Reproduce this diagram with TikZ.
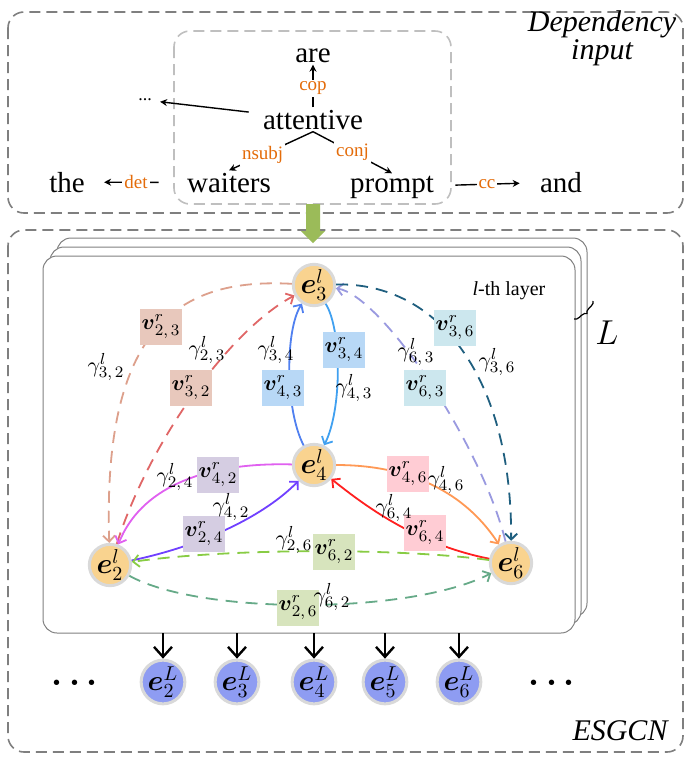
\documentclass[tikz,border=0pt]{standalone}
\usepackage[no-math]{fontspec}
\setmainfont{Liberation Serif}
\usepackage{amsmath}
\usetikzlibrary{arrows.meta,decorations.pathreplacing}

\definecolor{groupgray}{HTML}{7F7F7F}
\definecolor{innergray}{HTML}{BFBFBF}
\definecolor{deporange}{HTML}{E46C0A}
\definecolor{flowgreen}{HTML}{9BBB59}
\definecolor{nodeorange}{HTML}{F9D38F}
\definecolor{nodeblue}{HTML}{8E9CF2}
\definecolor{ringgray}{HTML}{D9D9D9}
\definecolor{salmonE}{HTML}{DDA08C}
\definecolor{redD}{HTML}{E06666}
\definecolor{blueL}{HTML}{5080F0}
\definecolor{blueR}{HTML}{40A0F0}
\definecolor{lavenderE}{HTML}{9A9AE0}
\definecolor{tealD}{HTML}{1F5F7F}
\definecolor{magentaE}{HTML}{E060F0}
\definecolor{purpleE}{HTML}{7040FF}
\definecolor{orangeE}{HTML}{FF9955}
\definecolor{redE}{HTML}{FF2020}
\definecolor{greenE}{HTML}{88CC44}
\definecolor{tealG}{HTML}{66AA88}
\definecolor{boxsalmon}{HTML}{E8C8BC}
\definecolor{boxblue}{HTML}{B8D8F6}
\definecolor{boxteal}{HTML}{CCE7EE}
\definecolor{boxlav}{HTML}{D5CDE2}
\definecolor{boxpink}{HTML}{FFCCD4}
\definecolor{boxgreen}{HTML}{D7E4BD}

\begin{document}
\begin{tikzpicture}[x=0.5pt,y=-0.5pt,
  >={Straight Barb[length=3pt,width=6pt]},
  word/.style={font=\fontsize{14.5}{17}\selectfont, inner sep=1pt, anchor=base},
  deplabel/.style={font=\fontsize{9.5}{11}\selectfont, text=deporange, fill=white, inner sep=1pt},
  deparrow/.style={-{Stealth[length=3.5pt,width=3.5pt]}, line width=0.7pt},
  enode/.style={circle, fill=nodeorange, draw=ringgray, line width=1.5pt, minimum size=17.5pt, inner sep=0pt, font=\fontsize{14}{16}\selectfont},
  outnode/.style={enode, fill=nodeblue, minimum size=18pt},
  vbox/.style={inner sep=1pt, minimum width=20pt, minimum height=18pt, font=\fontsize{11}{13}\selectfont},
  glabel/.style={inner sep=0pt, font=\fontsize{11}{13}\selectfont},
  rel/.style={->, line width=0.9pt},
  dashrel/.style={rel, dash pattern=on 6pt off 4pt},
  layerbox/.style={draw=gray, fill=white, line width=0.5pt, rounded corners=7pt},
  groupbox/.style={draw=groupgray, dash pattern=on 5.5pt off 3pt, line width=0.8pt, rounded corners=8pt},
  outarrow/.style={-{Straight Barb[length=5pt,width=9pt]}, line width=1.2pt}]

  \useasboundingbox (0,0) rectangle (690,761);

  \draw[groupbox] (8,12) rectangle (683,213);                  % Dependency group
  \draw[groupbox] (8,230) rectangle (683,752);                 % ESGCN group
  \draw[groupbox, draw=innergray] (174,31) rectangle (451,204); % Sentence box

  \node[font=\fontsize{15}{11.5}\selectfont\itshape, align=center] (deptitle) at (602,38) {Dependency\\input};
  \node[font=\fontsize{15}{17}\selectfont\itshape] (esgcn) at (620,731) {ESGCN};

  \node[word] (are) at (313,62) {are};                         % Words of the sentence
  \node[word] (attentive) at (313,129) {attentive};
  \node[word] (the) at (67,192) {the};
  \node[word] (waiters) at (229,192) {waiters};
  \node[word] (prompt) at (392,192) {prompt};
  \node[word] (and) at (561,192) {and};
  \node[font=\fontsize{9}{10}\selectfont, inner sep=1pt] (more) at (145,100) {...};

  \draw[deparrow] (attentive) -- node[deplabel, pos=0.45]{cop} (are); % Dependency arcs
  \draw[deparrow, shorten <=6pt, shorten >=3pt] (attentive) -- (more);
  \draw[deparrow] (attentive.south) -- node[deplabel, pos=0.6]{nsubj} (waiters.north);
  \draw[deparrow] (attentive.south) -- node[deplabel]{conj} (prompt.north);
  \draw[deparrow, shorten <=13pt, shorten >=8.5pt] (waiters) -- node[deplabel]{det} (the);
  \draw[deparrow, shorten <=9.5pt, shorten >=9pt] (prompt) -- node[deplabel]{cc} (and);

  \draw[layerbox] (57,238) rectangle (587,617);                % Stack of layers
  \draw[layerbox] (50,247) rectangle (581,625);
  \draw[layerbox] (43,256) rectangle (575,633);
  \coordinate (fb) at (0,633);                                 % Bottom of front layer

  \fill[flowgreen] (306,204) -- (320,204) -- (320,231) -- (325,231) -- (313,243)
    -- (301,231) -- (306,231) -- cycle;                        % Flow into the layers

  \draw[decorate, decoration={brace, amplitude=2.5pt}, line width=0.6pt] (593,301) -- (574,319);
  \node[font=\fontsize{17}{19}\selectfont] (nlayers) at (607,333) {$L$};
  \node[font=\fontsize{10}{12}\selectfont] (layername) at (509,291) {\textit{l}-th layer};

  \node[enode] (e3) at (314,285) {$\boldsymbol{e}^l_3$};       % Nodes of the l-th layer
  \node[enode] (e4) at (314,465) {$\boldsymbol{e}^l_4$};
  \node[enode] (e2) at (110,565) {$\boldsymbol{e}^l_2$};
  \node[enode] (e6) at (511,563) {$\boldsymbol{e}^l_6$};

  \draw[dashrel, salmonE] (e3) .. controls (185,278) and (102,320) .. (e2);   % e3 to e2
  \draw[dashrel, redD] (e2) .. controls (150,440) and (230,330) .. (e3);      % e2 to e3
  \draw[rel, blueL] (e4) .. controls (285,410) and (285,330) .. (e3);         % e4 to e3
  \draw[rel, blueR] (e3) .. controls (342,330) and (342,410) .. (e4);         % e3 to e4
  \draw[dashrel, lavenderE] (e6) .. controls (480,440) and (380,295) .. (e3); % e6 to e3
  \draw[dashrel, tealD] (e3) .. controls (440,282) and (512,380) .. (e6);     % e3 to e6
  \draw[rel, magentaE] (e4) .. controls (200,462) and (140,490) .. (e2);      % e4 to e2
  \draw[rel, purpleE] (e2) .. controls (205,545) and (265,515) .. (e4);       % e2 to e4
  \draw[rel, orangeE] (e4) .. controls (420,465) and (470,500) .. (e6);       % e4 to e6
  \draw[rel, redE] (e6) .. controls (420,545) and (370,510) .. (e4);          % e6 to e4
  \draw[dashrel, greenE] (e6) .. controls (400,548) and (230,548) .. (e2);    % e6 to e2
  \draw[dashrel, tealG] (e2) .. controls (200,615) and (410,615) .. (e6);     % e2 to e6

  \node[vbox, fill=boxsalmon] (v23) at (161,327) {$\boldsymbol{v}^r_{2,\,3}$}; % Relation boxes
  \node[vbox, fill=boxsalmon] (v32) at (191,388) {$\boldsymbol{v}^r_{3,\,2}$};
  \node[vbox, fill=boxblue] (v43) at (283,388) {$\boldsymbol{v}^r_{4,\,3}$};
  \node[vbox, fill=boxblue] (v34) at (344,350) {$\boldsymbol{v}^r_{3,\,4}$};
  \node[vbox, fill=boxteal] (v63) at (425,388) {$\boldsymbol{v}^r_{6,\,3}$};
  \node[vbox, fill=boxteal] (v36) at (455,328) {$\boldsymbol{v}^r_{3,\,6}$};
  \node[vbox, fill=boxlav] (v42) at (218,475) {$\boldsymbol{v}^r_{4,\,2}$};
  \node[vbox, fill=boxlav] (v24) at (204,534) {$\boldsymbol{v}^r_{2,\,4}$};
  \node[vbox, fill=boxpink] (v46) at (408,474) {$\boldsymbol{v}^r_{4,\,6}$};
  \node[vbox, fill=boxpink] (v64) at (425,533) {$\boldsymbol{v}^r_{6,\,4}$};
  \node[vbox, fill=boxgreen] (v62) at (334,552) {$\boldsymbol{v}^r_{6,\,2}$};
  \node[vbox, fill=boxgreen] (v26) at (298,608) {$\boldsymbol{v}^r_{2,\,6}$};

  \node[glabel] (g32) at (106,367) {$\gamma^l_{3,\,2}$};       % Attention weights
  \node[glabel] (g23) at (207,350) {$\gamma^l_{2,\,3}$};
  \node[glabel] (g34) at (276,350) {$\gamma^l_{3,\,4}$};
  \node[glabel] (g43) at (354,388) {$\gamma^l_{4,\,3}$};
  \node[glabel] (g63) at (416,352) {$\gamma^l_{6,\,3}$};
  \node[glabel] (g36) at (497,362) {$\gamma^l_{3,\,6}$};
  \node[glabel] (g24) at (175,477) {$\gamma^l_{2,\,4}$};
  \node[glabel] (g42) at (231,507) {$\gamma^l_{4,\,2}$};
  \node[glabel] (g46) at (446,480) {$\gamma^l_{4,\,6}$};
  \node[glabel] (g64) at (394,508) {$\gamma^l_{6,\,4}$};
  \node[glabel] (g26) at (294,540) {$\gamma^l_{2,\,6}$};
  \node[glabel] (g62) at (332,597) {$\gamma^l_{6,\,2}$};

  \node[outnode] (eL2) at (163,682) {$\boldsymbol{e}^L_2$};    % Output nodes
  \node[outnode] (eL3) at (237,682) {$\boldsymbol{e}^L_3$};
  \node[outnode] (eL4) at (314,682) {$\boldsymbol{e}^L_4$};
  \node[outnode] (eL5) at (385,682) {$\boldsymbol{e}^L_5$};
  \node[outnode] (eL6) at (459,682) {$\boldsymbol{e}^L_6$};
  \node[font=\fontsize{18}{20}\selectfont] (leftdots) at (78,683) {$\boldsymbol{\cdots}$};
  \node[font=\fontsize{18}{20}\selectfont] (rightdots) at (555,683) {$\boldsymbol{\cdots}$};

  \draw[outarrow] (eL2 |- fb) -- (eL2);                        % Outputs of the last layer
  \draw[outarrow] (eL3 |- fb) -- (eL3);
  \draw[outarrow] (eL4 |- fb) -- (eL4);
  \draw[outarrow] (eL5 |- fb) -- (eL5);
  \draw[outarrow] (eL6 |- fb) -- (eL6);

\end{tikzpicture}
\end{document}
